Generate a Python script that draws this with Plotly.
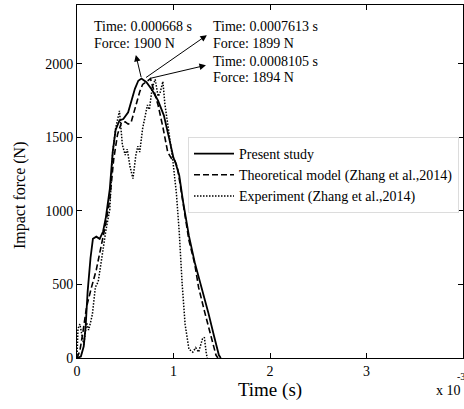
import plotly.graph_objects as go

# Time in units of 10^-3 s, force in N
t_present = [0, 0.04, 0.07, 0.09, 0.11, 0.14, 0.165, 0.20, 0.235, 0.27, 0.30, 0.34, 0.37, 0.40,
             0.44, 0.48, 0.53, 0.57, 0.60, 0.635, 0.668, 0.72, 0.78, 0.84, 0.90, 0.956, 1.00,
             1.02, 1.06, 1.10, 1.16, 1.22, 1.30, 1.36, 1.42, 1.47, 1.49]
f_present = [0, 10, 80, 220, 450, 680, 810, 825, 810, 860, 960, 1150, 1400, 1550,
             1615, 1625, 1670, 1760, 1830, 1885, 1900, 1875, 1820, 1750, 1650, 1490, 1360,
             1330, 1240, 1060, 830, 650, 466, 310, 150, 20, 0]

t_theory = [0, 0.03, 0.06, 0.10, 0.15, 0.20, 0.25, 0.30, 0.34, 0.38, 0.42, 0.46, 0.50, 0.53,
            0.56, 0.61, 0.65, 0.68, 0.7613, 0.80, 0.84, 0.89, 0.94, 0.98, 1.01, 1.04, 1.08,
            1.12, 1.16, 1.22, 1.26, 1.32, 1.38, 1.44, 1.46]
f_theory = [0, 50, 170, 350, 480, 600, 760, 920, 1080, 1350, 1520, 1600, 1605, 1590,
            1600, 1720, 1810, 1860, 1899, 1810, 1720, 1570, 1400, 1355, 1345, 1300, 1140,
            960, 800, 640, 480, 320, 160, 20, 0]

t_exp = [0, 0.01, 0.03, 0.05, 0.07, 0.10, 0.12, 0.14, 0.16, 0.19, 0.22, 0.25, 0.30, 0.34,
         0.37, 0.40, 0.44, 0.47, 0.50, 0.52, 0.55, 0.58, 0.61, 0.63, 0.65, 0.68, 0.71, 0.73,
         0.75, 0.78, 0.8105, 0.84, 0.86, 0.89, 0.91, 0.95, 0.99, 1.03, 1.06, 1.09, 1.12,
         1.16, 1.20, 1.23, 1.26, 1.30, 1.32, 1.34, 1.35]
f_exp = [0, 200, 230, 150, 90, 240, 190, 240, 300, 480, 520, 650, 870, 1010,
         1400, 1560, 1680, 1450, 1380, 1420, 1300, 1220, 1380, 1440, 1400, 1560, 1660, 1720,
         1690, 1840, 1894, 1780, 1800, 1880, 1730, 1560, 1360, 1120, 850, 500, 230,
         60, 40, 70, 40, 130, 140, 30, 0]

x_ticks = [0, 1, 2, 3, 4]
y_ticks = [0, 500, 1000, 1500, 2000]

FONT = "Liberation Serif, Times New Roman, serif"

W, H = 464, 409
ml, mr, mt, mb = 77, 1, 5, 51
pw, ph = W - ml - mr, H - mt - mb


def px2paper(x, y):
    return (x - ml) / pw, 1 - (y - mt) / ph


fig = go.Figure()
fig.add_trace(go.Scatter(x=t_present, y=f_present, mode="lines", name="Present study",
                         line=dict(color="black", width=1.8)))
fig.add_trace(go.Scatter(x=t_theory, y=f_theory, mode="lines",
                         name="Theoretical model (Zhang et al.,2014)",
                         line=dict(color="black", width=1.6, dash="6px,3px")))
fig.add_trace(go.Scatter(x=t_exp, y=f_exp, mode="lines",
                         name="Experiment (Zhang et al.,2014)",
                         line=dict(color="black", width=1.5, dash="1.5px,1.5px")))

annotations = []
# arrows: tail near the peaks, head at the text side
arrows = [
    ((0.668, 1900), (0.61, 2060)),
    ((0.70, 1900), (1.346, 2195)),
    ((0.75, 1900), (1.336, 1990)),
]
for (px, py), (hx, hy) in arrows:
    annotations.append(dict(x=hx, y=hy, ax=px, ay=py, xref="x", yref="y", axref="x", ayref="y",
                            text="", showarrow=True, arrowhead=2, arrowsize=1.3, arrowwidth=1,
                            arrowcolor="black"))

labels = [
    (0.154, 2253, "Time: 0.000668 s"),
    (0.154, 2137, "Force: 1900 N"),
    (1.39, 2253, "Time: 0.0007613 s"),
    (1.39, 2137, "Force: 1899 N"),
    (1.39, 2017, "Time: 0.0008105 s"),
    (1.39, 1907, "Force: 1894 N"),
]
for x, y, txt in labels:
    annotations.append(dict(x=x, y=y, xref="x", yref="y", text=txt, showarrow=False,
                            xanchor="left", yanchor="middle",
                            font=dict(family=FONT, size=14, color="black")))

ex, ey = px2paper(434, 390)
sx, sy = px2paper(455, 376)
annotations.append(dict(x=ex, y=ey, xref="paper", yref="paper", text="x 10", showarrow=False,
                        xanchor="left", yanchor="middle",
                        font=dict(family=FONT, size=14, color="black")))
annotations.append(dict(x=sx, y=sy, xref="paper", yref="paper", text="-3", showarrow=False,
                        xanchor="left", yanchor="middle",
                        font=dict(family=FONT, size=10, color="black")))

# y axis title placed like the reference (slightly below the axis centre)
tx, ty = px2paper(20, 195)
annotations.append(dict(x=tx, y=ty, xref="paper", yref="paper", text="Impact force (N)",
                        showarrow=False, textangle=-90, xanchor="center", yanchor="middle",
                        font=dict(family=FONT, size=16, color="black")))

lx, ly = px2paper(188, 137)
fig.update_layout(
    width=W, height=H,
    margin=dict(l=ml, r=mr, t=mt, b=mb, autoexpand=False),
    paper_bgcolor="white", plot_bgcolor="white",
    font=dict(family=FONT, size=14, color="black"),
    annotations=annotations,
    showlegend=True,
    legend=dict(x=lx, y=ly, xanchor="left", yanchor="top",
                bgcolor="white", bordercolor="#dcdcdc", borderwidth=1,
                font=dict(family=FONT, size=14, color="black"),
                tracegroupgap=0, itemwidth=40),
    xaxis=dict(range=[0, 4], tickvals=x_ticks, ticktext=[str(v) for v in x_ticks],
               ticks="inside", ticklen=5, tickcolor="black", showgrid=False, zeroline=False,
               showline=True, linecolor="black", linewidth=1, mirror="ticks",
               tickfont=dict(family=FONT, size=14), automargin=False,
               title=dict(text="Time (s)", font=dict(family=FONT, size=19), standoff=2)),
    yaxis=dict(range=[0, 2400], tickvals=y_ticks, ticks="inside", ticklen=5, tickcolor="black",
               showgrid=False, zeroline=False, showline=True, linecolor="black", linewidth=1,
               mirror="ticks", tickfont=dict(family=FONT, size=14), automargin=False),
)

fig.write_html("out.html")
